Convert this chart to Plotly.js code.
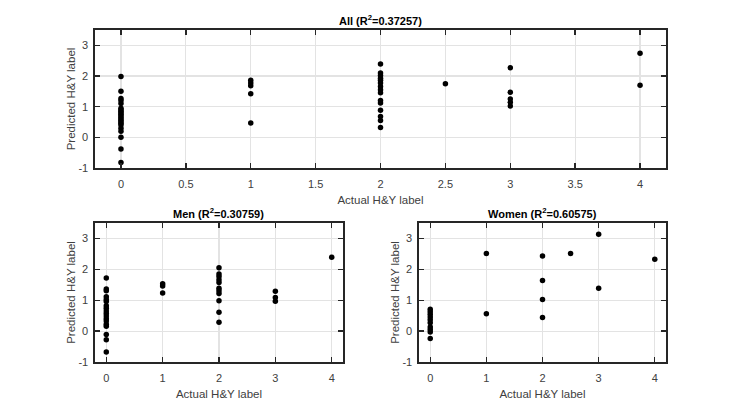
<!DOCTYPE html>
<html>
<head>
<meta charset="utf-8">
<script src="https://cdn.plot.ly/plotly-3.0.1.min.js"></script>
<style>
  html, body { margin: 0; padding: 0; background: #fff; }
  #chart { width: 736px; height: 406px; }
</style>
</head>
<body>
<div id="chart"></div>
<script>
// Actual vs predicted H&Y label
const allActual = [
    0, 0, 0, 0, 0, 0, 0, 0, 0, 0, 0, 0, 0, 0, 0, 0, 0, 0, 0, 0, 0, 0,
    1, 1, 1, 1, 1,
    2, 2, 2, 2, 2, 2, 2, 2, 2, 2, 2, 2, 2, 2, 2,
    2.5,
    3, 3, 3, 3, 3,
    4, 4
];
const allPredicted = [
    1.98, 1.5, 1.27, 1.2, 1.1, 0.95, 0.9, 0.85, 0.8, 0.75, 0.7, 0.65, 0.6, 0.55, 0.5, 0.45, 0.4, 0.3, 0.2, 0.0, -0.38, -0.82,
    1.86, 1.77, 1.68, 1.42, 0.47,
    2.39, 2.1, 2.02, 1.93, 1.86, 1.77, 1.66, 1.55, 1.45, 1.2, 1.12, 0.88, 0.68, 0.55, 0.32,
    1.75,
    2.27, 1.47, 1.25, 1.14, 1.02,
    2.74, 1.7
];

const menActual = [
    0, 0, 0, 0, 0, 0, 0, 0, 0, 0, 0, 0, 0, 0, 0, 0, 0, 0,
    1, 1, 1,
    2, 2, 2, 2, 2, 2, 2, 2, 2, 2, 2,
    3, 3, 3,
    4
];
const menPredicted = [
    1.72, 1.36, 1.31, 1.11, 1.02, 0.96, 0.82, 0.74, 0.65, 0.57, 0.49, 0.4, 0.33, 0.22, 0.16, -0.11, -0.28, -0.68,
    1.53, 1.46, 1.23,
    2.05, 1.85, 1.77, 1.66, 1.57, 1.39, 1.31, 1.22, 0.98, 0.61, 0.29,
    1.29, 1.09, 0.97,
    2.39
];

const womenActual = [
    0, 0, 0, 0, 0, 0, 0, 0, 0, 0,
    1, 1,
    2, 2, 2, 2,
    2.5,
    3, 3,
    4
];
const womenPredicted = [
    0.71, 0.63, 0.55, 0.46, 0.37, 0.27, 0.13, 0.05, -0.03, -0.24,
    2.51, 0.56,
    2.43, 1.64, 1.02, 0.44,
    2.51,
    3.14, 1.39,
    2.33
];

const panelTitles = [
    '<b>All (R<sup>2</sup>=0.37257)</b>',
    '<b>Men (R<sup>2</sup>=0.30759)</b>',
    '<b>Women (R<sup>2</sup>=0.60575)</b>'
];

const xLabel = 'Actual H&Y label';
const yLabel = 'Predicted H&Y label';

// y ticks, written with a plain hyphen like the original
const yTickVals = [-1, 0, 1, 2, 3];
const yTickText = ['-1', '0', '1', '2', '3'];

const FONT = 'Liberation Sans, Arial, Helvetica, sans-serif';
const axisColor = '#262626';
const textColor = '#404040';
const gridColor = '#e3e3e3';

const dots = (x, y, xa, ya) => ({
    x: x,
    y: y,
    xaxis: xa,
    yaxis: ya,
    type: 'scatter',
    mode: 'markers',
    marker: { color: '#000', size: 5.5 },
    hoverinfo: 'x+y',
    showlegend: false
});

const traces = [
    dots(allActual, allPredicted, 'x', 'y'),
    dots(menActual, menPredicted, 'x2', 'y2'),
    dots(womenActual, womenPredicted, 'x3', 'y3')
];

// shared look for every axis, MATLAB-ish box with ticks inside
const baseAxis = {
    showgrid: true,
    gridcolor: gridColor,
    gridwidth: 1.2,
    zeroline: false,
    showline: true,
    linecolor: axisColor,
    linewidth: 1.6,
    mirror: 'ticks',
    ticks: 'inside',
    ticklen: 5,
    tickwidth: 1.4,
    tickcolor: axisColor,
    tickfont: { size: 11, color: textColor },
    fixedrange: true
};

function xAxis(domain, anchor, dtick) {
    return Object.assign({}, baseAxis, {
        domain: domain,
        anchor: anchor,
        range: [-0.2, 4.2],
        dtick: dtick,
        tick0: 0,
        ticklabelstandoff: 5,
        title: { text: xLabel, font: { size: 11.5, color: textColor }, standoff: 7 }
    });
}

function yAxis(domain, anchor) {
    return Object.assign({}, baseAxis, {
        domain: domain,
        anchor: anchor,
        range: [-1, 3.5],
        tickmode: 'array',
        tickvals: yTickVals,
        ticktext: yTickText,
        ticklabelstandoff: 3,
        title: { text: yLabel, font: { size: 11.5, color: textColor }, standoff: 0 }
    });
}

const topY = [0.5862, 0.9261];
const bottomY = [0.1084, 0.4507];

const titleAnn = (text, x, y) => ({
    text: text,
    xref: 'paper',
    yref: 'paper',
    x: x,
    y: y,
    xanchor: 'center',
    yanchor: 'bottom',
    yshift: 1,
    showarrow: false,
    font: { size: 11, color: '#000' }
});

const layout = {
    width: 736,
    height: 406,
    margin: { l: 0, r: 0, t: 0, b: 0 },
    paper_bgcolor: '#fff',
    plot_bgcolor: '#fff',
    font: { family: FONT, color: axisColor },
    showlegend: false,
    xaxis: xAxis([0.1291, 0.9049], 'y', 0.5),
    yaxis: yAxis(topY, 'x'),
    xaxis2: xAxis([0.1291, 0.466], 'y2', 1),
    yaxis2: yAxis(bottomY, 'x2'),
    xaxis3: xAxis([0.5693, 0.9049], 'y3', 1),
    yaxis3: yAxis(bottomY, 'x3'),
    annotations: [
        titleAnn(panelTitles[0], (0.1291 + 0.9049) / 2, 0.9261),
        titleAnn(panelTitles[1], (0.1291 + 0.466) / 2, 0.4507),
        titleAnn(panelTitles[2], (0.5693 + 0.9049) / 2, 0.4507)
    ]
};

Plotly.newPlot('chart', traces, layout, { displayModeBar: false, staticPlot: true });
</script>
</body>
</html>
